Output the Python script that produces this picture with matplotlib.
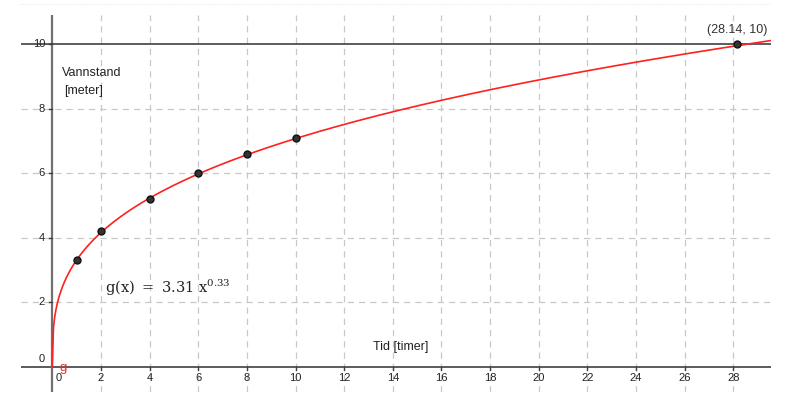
import numpy as np
import matplotlib.pyplot as plt
from matplotlib.lines import Line2D

# Measured points (tid, vannstand)
tid = [1, 2, 4, 6, 8, 10, 28.14]
vannstand = [3.3, 4.2, 5.2, 6.0, 6.6, 7.1, 10]

# Fitted model g(x) = a * x^b
a, b = 3.31, 0.33

x_ticks = list(range(2, 30, 2))
y_ticks = [2, 4, 6, 8, 10]

plt.rcParams['font.family'] = ['Liberation Sans', 'DejaVu Sans']
plt.rcParams['mathtext.fontset'] = 'dejavuserif'

fig = plt.figure(figsize=(8, 4.09), dpi=100)
ax = fig.add_axes([21 / 800, 17.3 / 409, 750 / 800, 376.7 / 409])
ax.set_xlim(-1.287, 29.55)
ax.set_ylim(-0.775, 10.91)
ax.axis('off')

grid_col = '#c8c8c8'
for xv in x_ticks:
    ax.axvline(xv, color=grid_col, linestyle=(0, (5, 4)), linewidth=0.9, zorder=1)
for yv in y_ticks[:-1]:
    ax.axhline(yv, color=grid_col, linestyle=(0, (5, 4)), linewidth=0.9, zorder=1)

# axes
ax.axhline(0, color='#404040', linewidth=1.2, zorder=2)
ax.axvline(0, color='#707070', linewidth=1.6, zorder=2)
ax.axhline(10, color='#303030', linewidth=1.1, zorder=2)

# tick marks and labels
for xv in x_ticks:
    ax.plot([xv, xv], [0, -0.1], color='#404040', linewidth=1, zorder=3)
    ax.text(xv, -0.2, str(xv), ha='center', va='top', fontsize=8, color='#222222')
ax.text(0.12, -0.2, '0', ha='left', va='top', fontsize=8, color='#222222')
for yv in y_ticks:
    ax.plot([-0.15, 0], [yv, yv], color='#404040', linewidth=1, zorder=3)
    ax.text(-0.3, yv, str(yv), ha='right', va='center', fontsize=8, color='#222222')
ax.text(-0.3, 0.25, '0', ha='right', va='center', fontsize=8, color='#222222')

# curve
xs = np.linspace(0, 29.55, 600)
ax.plot(xs, a * xs ** b, color='#ff2020', linewidth=1.2, zorder=4)
ax.plot(tid, vannstand, 'o', markersize=5, markerfacecolor='#333333',
        markeredgecolor='#111111', zorder=5)

# labels
ax.text(0.4, 9.1, 'Vannstand', fontsize=9, color='#222222', va='center')
ax.text(0.5, 8.55, '[meter]', fontsize=9, color='#222222', va='center')
ax.text(13.2, 0.6, 'Tid [timer]', fontsize=9, color='#222222', va='center')
ax.text(2.15, 2.45, r'$\mathrm{g(x)\ =\ 3.31\ x^{0.33}}$', fontsize=10.5,
        color='#222222', va='center')
ax.text(28.14, 10.45, '(28.14, 10)', fontsize=9, color='#333333', ha='center', va='center')
ax.text(0.3, -0.05, 'g', fontsize=9.5, color='#ff2020', va='center')

fig.add_artist(Line2D([20 / 800, 770 / 800], [405.5 / 409, 405.5 / 409],
                      color='#dddddd', linestyle=':', linewidth=0.6))

fig.savefig('out.png', dpi=100)
